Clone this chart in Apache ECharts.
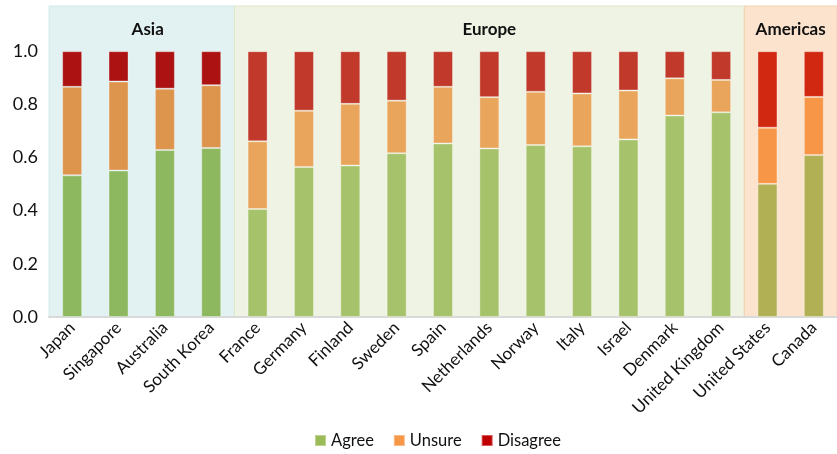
<!DOCTYPE html>
<html><head><meta charset="utf-8">
<script src="https://cdn.jsdelivr.net/npm/echarts@6/dist/echarts.min.js"></script>
<style>html,body{margin:0;padding:0;background:#fff}#c{width:837px;height:454px}</style>
</head><body><div id="c"></div>
<script>
const categories = ['Japan','Singapore','Australia','South Korea','France','Germany','Finland','Sweden','Spain','Netherlands','Norway','Italy','Israel','Denmark','United Kingdom','United States','Canada'];
const agree    = [0.533,0.551,0.628,0.636,0.406,0.564,0.570,0.616,0.653,0.634,0.647,0.642,0.668,0.758,0.770,0.501,0.609];
const unsure   = [0.333,0.335,0.231,0.236,0.255,0.212,0.232,0.198,0.213,0.193,0.200,0.199,0.184,0.140,0.122,0.211,0.219];
const disagree = [0.134,0.114,0.141,0.128,0.339,0.224,0.198,0.186,0.134,0.173,0.153,0.159,0.148,0.102,0.108,0.288,0.172];
const regionNames = ['Asia','Europe','Americas'];
const regionStart = [0,4,15];
const regionEnd   = [4,15,17];
const regionOf = categories.map((c,i)=> i<4?0:(i<15?1:2));

const regionBg     = ['#e2f2f2','#eff3e3','#fce3cd'];
const regionStroke = ['#d3e8e8','#dde6cc','#f3d2b2'];
const agreeColors    = ['#8db860','#a6c26a','#b2b055'];
const unsureColors   = ['#dd944d','#e9a55b','#f79646'];
const disagreeColors = ['#ab1211','#c0392a','#d12811'];
const legendColors = ['#9bbb59','#f79646','#c00000'];
const FONT = 'Lato';

function mk(vals, cols){
  return vals.map((v,i)=>({value:v, itemStyle:{color: cols[regionOf[i]]}}));
}
const barCommon = {type:'bar', stack:'s', barWidth:20, xAxisIndex:0, yAxisIndex:0, z:3,
  itemStyle:{borderColor:'rgba(255,255,255,0.35)', borderWidth:1}};

const chart = echarts.init(document.getElementById('c'), null, {renderer:'canvas'});
chart.setOption({
  animation:false,
  textStyle:{fontFamily:FONT},
  grid:{left:49, top:6, width:791, height:311, containLabel:false},
  legend:{bottom:0, left:309, itemWidth:11, itemHeight:11, itemGap:19,
    icon:'rect', textStyle:{fontFamily:FONT, fontSize:16.5, color:'#111'},
    data:[{name:'Agree',itemStyle:{color:legendColors[0]}},{name:'Unsure',itemStyle:{color:legendColors[1]}},{name:'Disagree',itemStyle:{color:legendColors[2]}}]},
  xAxis:[
    {type:'category', data:categories, axisTick:{show:false},
      axisLine:{lineStyle:{color:'#d9d9d9', width:2}},
      axisLabel:{rotate:45, interval:0, fontFamily:FONT, fontSize:17, color:'#111', margin:8}},
    {type:'value', min:0, max:17, show:false}
  ],
  yAxis:{type:'value', min:0, max:1.17, interval:0.2, splitLine:{show:false},
    axisLine:{show:false}, axisTick:{show:false},
    axisLabel:{fontFamily:FONT, fontSize:18, color:'#111', margin:11, showMaxLabel:false,
      formatter:v=> v>1.0001 ? '' : v.toFixed(1)}},
  series:[
    {type:'custom', xAxisIndex:1, yAxisIndex:0, z:0, silent:true,
      data: regionNames.map((n,i)=>[regionStart[i], regionEnd[i], i]),
      renderItem:function(params, api){
        const i = api.value(2);
        const p0 = api.coord([api.value(0), 1.17]);
        const p1 = api.coord([api.value(1), 0]);
        return {type:'group', children:[
          {type:'rect', shape:{x:p0[0], y:p0[1], width:p1[0]-p0[0], height:p1[1]-p0[1]},
            style:{fill:regionBg[i], stroke:regionStroke[i], lineWidth:1}},
          {type:'text', style:{text:regionNames[i], x:(p0[0]+p1[0])/2 + (i===0?6:0), y:p0[1]+24,
            textAlign:'center', textVerticalAlign:'middle', fill:'#111',
            font:'bold 17px '+FONT}}
        ]};
      }
    },
    Object.assign({}, barCommon, {name:'Agree', color:legendColors[0], data:mk(agree, agreeColors)}),
    Object.assign({}, barCommon, {name:'Unsure', color:legendColors[1], data:mk(unsure, unsureColors)}),
    Object.assign({}, barCommon, {name:'Disagree', color:legendColors[2], data:mk(disagree, disagreeColors)})
  ]
});
</script></body></html>
